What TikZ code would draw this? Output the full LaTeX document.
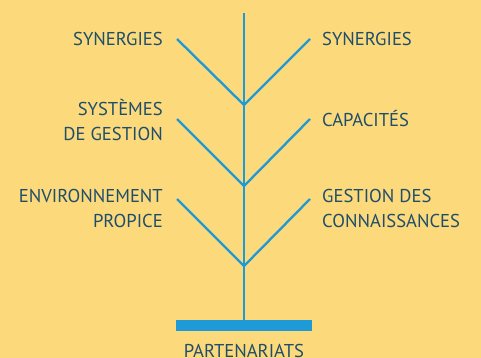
\documentclass[tikz,border=0pt]{standalone}
\usepackage{fontspec}
\setmainfont{PT Sans}
\definecolor{bg}{HTML}{FCD97A}
\definecolor{treeblue}{HTML}{1E9AD6}
\definecolor{txt}{HTML}{1F4E6C}
\begin{document}
\begin{tikzpicture}[x=1pt,y=-1pt,
  lbl/.style={inner sep=0pt,text=txt,font=\fontsize{18.6}{25}\selectfont},
  lft/.style={lbl,anchor=base east,align=right},
  rgt/.style={lbl,anchor=base west,align=left},
  branch/.style={draw=treeblue,line width=2.3pt}]
\fill[bg] (0,0) rectangle (481,358);
\useasboundingbox (0,0) rectangle (481,358);
% trunk
\coordinate (top) at (244,13);
\coordinate (base) at (244,320);
\coordinate (j1) at (244,105);
\coordinate (j2) at (244,186);
\coordinate (j3) at (244,266);
\coordinate (l1) at (177,39);
\coordinate (r1) at (310,39);
\coordinate (l2) at (177,119);
\coordinate (r2) at (310,119);
\coordinate (l3) at (177,199);
\coordinate (r3) at (310,199);
\draw[branch] (top) -- (base);
\draw[branch] (l1) -- (j1) -- (r1);
\draw[branch] (l2) -- (j2) -- (r2);
\draw[branch] (l3) -- (j3) -- (r3);
\node[fill=treeblue,inner sep=0pt,minimum width=136pt,minimum height=11pt,anchor=north] (bar) at (244,320) {};
% labels
\node[lft] (ls1) at (163,45.5) {SYNERGIES};
\node[rgt] (rs1) at (322,45.5) {SYNERGIES};
\node[lft] (ls2) at (163,141) {SYSTÈMES\\DE GESTION};
\node[rgt] (rs2) at (322,127) {CAPACITÉS};
\node[lft] (ls3) at (163,227) {ENVIRONNEMENT\\PROPICE};
\node[rgt] (rs3) at (322,227) {GESTION DES\\CONNAISSANCES};
\node[lbl,anchor=base] (part) at (244,357) {PARTENARIATS};
\end{tikzpicture}
\end{document}
